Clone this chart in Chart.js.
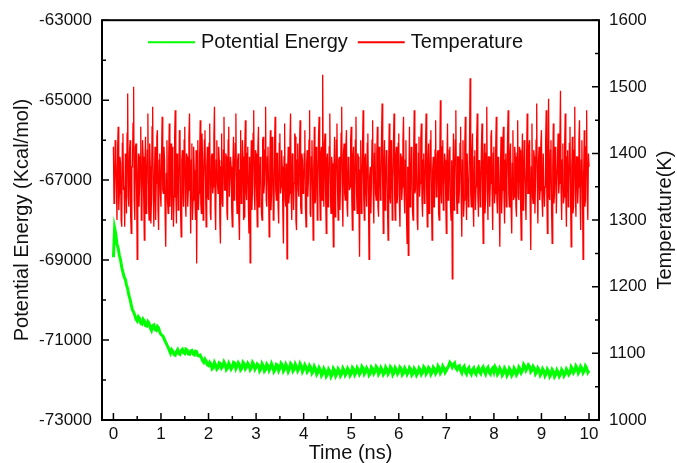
<!DOCTYPE html>
<html>
<head>
<meta charset="utf-8">
<title>Potential energy and temperature</title>
<script src="https://cdn.jsdelivr.net/npm/chart.js@4.4.1/dist/chart.umd.min.js"></script>
<style>
  html,body{margin:0;padding:0;background:#fff;}
  #wrap{width:677px;height:463px;}
</style>
</head>
<body>
<div id="wrap"><canvas id="chart" width="677" height="463"></canvas></div>
<script>
// axis ticks
const timeTicks=[0,1,2,3,4,5,6,7,8,9,10];
const energyTicks=[-73000,-71000,-69000,-67000,-65000,-63000];
const tempTicks=[1000,1100,1200,1300,1400,1500,1600];

// sampling interval (ns) of each series
const energyStep=0.025;
const tempStep=0.0125;

// potential energy (Kcal/mol)
const energy=[
  -68930,-68200,-68350,-68600,-68700,-68880,-69000,-69180,-69300,-69420,
  -69480,-69620,-69720,-69880,-69980,-70120,-70250,-70300,-70380,-70480,
  -70520,-70420,-70460,-70580,-70600,-70480,-70520,-70640,-70650,-70540,
  -70580,-70700,-70760,-70640,-70620,-70740,-70760,-70660,-70700,-70800,
  -70860,-70880,-70920,-71000,-71060,-71120,-71180,-71260,-71330,-71240,
  -71280,-71360,-71380,-71290,-71240,-71340,-71360,-71260,-71230,-71320,
  -71340,-71230,-71250,-71350,-71360,-71270,-71260,-71350,-71370,-71280,
  -71290,-71390,-71400,-71380,-71440,-71520,-71560,-71480,-71530,-71620,
  -71640,
  -71560,-71600,-71720,-71690,-71560,-71620,-71730,-71700,-71570,-71590,-71700,-71660,-71550,-71610,-71740,-71700,-71580,-71640,-71730,-71680,
  -71560,-71580,-71720,-71660,-71570,-71620,-71750,-71710,-71560,-71600,-71720,-71670,-71580,-71630,-71740,-71690,-71560,-71610,-71730,-71680,
  -71600,-71630,-71770,-71720,-71590,-71650,-71780,-71740,-71600,-71640,-71760,-71700,-71590,-71660,-71790,-71740,-71610,-71630,-71770,-71710,
  -71580,-71620,-71780,-71730,-71610,-71670,-71790,-71720,-71590,-71630,-71780,-71740,-71600,-71660,-71770,-71710,-71590,-71650,-71790,-71730,
  -71620,-71670,-71800,-71760,-71640,-71690,-71830,-71780,-71660,-71720,-71860,-71810,-71690,-71740,-71890,-71840,-71710,-71760,-71910,-71860,
  -71730,-71780,-71920,-71870,-71710,-71760,-71900,-71840,-71720,-71770,-71900,-71850,-71700,-71750,-71880,-71830,-71710,-71760,-71890,-71840,
  -71690,-71730,-71870,-71820,-71690,-71740,-71860,-71810,-71660,-71700,-71850,-71800,-71700,-71750,-71880,-71840,-71680,-71720,-71840,-71790,
  -71660,-71700,-71860,-71810,-71690,-71740,-71870,-71830,-71680,-71730,-71850,-71800,-71670,-71710,-71870,-71820,-71690,-71740,-71850,-71800,
  -71680,-71720,-71870,-71830,-71700,-71750,-71860,-71810,-71690,-71730,-71880,-71840,-71710,-71760,-71880,-71830,-71700,-71740,-71860,-71810,
  -71670,-71710,-71850,-71800,-71690,-71730,-71860,-71810,-71680,-71720,-71840,-71790,-71650,-71700,-71830,-71780,-71650,-71700,-71810,-71760,
  -71700,-71640,-71560,-71600,-71680,-71620,-71580,-71700,-71740,-71660,-71640,-71760,-71820,-71700,-71660,-71800,-71850,-71730,-71690,-71810,
  -71860,-71740,-71700,-71820,-71860,-71740,-71690,-71800,-71840,-71710,-71670,-71790,-71850,-71720,-71680,-71810,-71850,-71740,-71700,-71800,
  -71670,-71720,-71860,-71810,-71700,-71750,-71880,-71830,-71700,-71750,-71890,-71840,-71710,-71760,-71890,-71840,-71700,-71750,-71870,-71820,
  -71680,-71730,-71820,-71760,-71610,-71660,-71760,-71700,-71620,-71660,-71800,-71760,-71660,-71710,-71850,-71800,-71700,-71750,-71880,-71830,
  -71720,-71770,-71900,-71850,-71730,-71780,-71910,-71860,-71740,-71790,-71920,-71870,-71750,-71800,-71910,-71860,-71740,-71790,-71900,-71850,
  -71730,-71780,-71870,-71830,-71670,-71720,-71820,-71770,-71650,-71700,-71830,-71780,-71660,-71710,-71820,-71770,-71650,-71700,-71810,-71760
];

// temperature (K)
const temperature=[
  1410,1325,1330,1420,1395,1350,1300,1405,1440,1315,1340,1395,1385,1300,1290,1415,1430,1345,1350,1290,1400,1375,1310,1430,1490,1335,1320,1400,1420,1305,1280,1380,1380,1445,1500,1330,1300,1410,1415,1350,
  1241,1360,1400,1320,1350,1395,1440,1300,1310,1420,1395,1330,1270,1385,1425,1310,1345,1405,1460,1325,1300,1415,1380,1295,1330,1440,1470,1340,1290,1365,1410,1300,1355,1425,1435,1315,1285,1390,1400,1340,
  1320,1400,1455,1345,1340,1410,1390,1305,1260,1370,1420,1330,1310,1395,1445,1320,1365,1415,1300,1380,1410,1290,1335,1425,1465,1340,1295,1400,1385,1315,1350,1435,1430,1310,1275,1390,1405,1345,1320,1420,
  1440,1330,1305,1400,1395,1320,1345,1425,1460,1350,1280,1390,1415,1300,1330,1410,1375,1340,1300,1405,1235,1360,1420,1315,1340,1395,1450,1325,1310,1430,1390,1300,1355,1420,1435,1345,1290,1380,1410,1335,
  1330,1415,1445,1310,1300,1395,1400,1340,1350,1425,1470,1320,1285,1390,1420,1355,1340,1410,1390,1300,1265,1380,1430,1325,1320,1405,1455,1345,1345,1400,1395,1310,1300,1420,1440,1335,1335,1395,1380,1315,
  1290,1385,1425,1330,1355,1415,1460,1340,1310,1390,1400,1305,1270,1375,1435,1325,1340,1420,1395,1300,1305,1410,1450,1345,1330,1400,1410,1320,1280,1395,1236,1370,1420,1315,1350,1430,1465,1340,1315,1405,
  1400,1335,1290,1410,1440,1320,1345,1395,1385,1310,1300,1420,1425,1340,1355,1405,1470,1330,1320,1395,1410,1345,1275,1385,1435,1315,1340,1425,1395,1300,1305,1410,1455,1345,1330,1400,1400,1320,1295,1415,
  1430,1340,1350,1405,1380,1310,1265,1395,1445,1330,1320,1385,1242,1370,1410,1325,1340,1420,1460,1335,1300,1400,1395,1315,1355,1430,1425,1300,1285,1390,1415,1345,1335,1410,1450,1320,1310,1400,1390,1340,
  1345,1400,1435,1320,1290,1385,1405,1335,1360,1420,1465,1310,1305,1395,1420,1345,1270,1380,1440,1325,1330,1410,1395,1300,1350,1425,1455,1340,1300,1400,1410,1330,1518,1360,1320,1415,1430,1335,1280,1390,
  1400,1320,1345,1410,1460,1335,1310,1395,1385,1325,1260,1380,1425,1305,1340,1420,1445,1345,1300,1390,1395,1315,1355,1430,1470,1330,1290,1400,1415,1340,1330,1410,1435,1320,1305,1395,1390,1345,1350,1420,
  1440,1330,1285,1395,1410,1315,1335,1420,1455,1340,1310,1400,1395,1325,1245,1375,1420,1310,1345,1405,1465,1335,1300,1390,1400,1345,1320,1415,1430,1330,1241,1365,1380,1310,1355,1420,1450,1340,1295,1400,
  1415,1340,1330,1400,1440,1320,1305,1410,1390,1330,1350,1425,1475,1345,1280,1385,1420,1315,1340,1405,1400,1320,1270,1390,1445,1335,1325,1420,1385,1300,1360,1410,1460,1340,1300,1395,1410,1325,1335,1415,
  1430,1325,1290,1400,1395,1330,1350,1420,1455,1340,1310,1390,1420,1305,1265,1380,1247,1360,1440,1320,1335,1410,1405,1315,1300,1395,1465,1340,1345,1415,1390,1300,1285,1400,1425,1335,1355,1420,1445,1330,
  1305,1390,1400,1325,1330,1410,1460,1340,1290,1385,1415,1310,1345,1420,1435,1330,1270,1375,1395,1320,1320,1405,1450,1335,1340,1400,1405,1310,1300,1395,1480,1345,1325,1410,1420,1315,1350,1400,1390,1330,
  1280,1385,1445,1330,1335,1405,1410,1320,1300,1390,1212,1360,1430,1315,1355,1420,1465,1340,1310,1395,1395,1325,1345,1415,1440,1330,1275,1390,1420,1305,1330,1410,1455,1345,1300,1400,1400,1320,1350,1415,
  1513,1340,1320,1400,1430,1325,1290,1395,1405,1315,1350,1420,1460,1335,1305,1390,1385,1320,1340,1410,1445,1330,1265,1380,1415,1310,1330,1400,1470,1345,1300,1395,1395,1320,1355,1425,1435,1340,1285,1400,
  1410,1325,1340,1405,1455,1330,1310,1395,1390,1320,1260,1375,1425,1310,1345,1415,1440,1335,1295,1390,1400,1320,1355,1425,1465,1340,1320,1400,1415,1315,1280,1385,1435,1330,1335,1410,1395,1320,1305,1400,
  1450,1335,1330,1410,1405,1320,1270,1385,1430,1315,1350,1420,1385,1330,1300,1395,1460,1340,1340,1410,1420,1325,1255,1380,1445,1335,1325,1405,1395,1310,1360,1420,1475,1345,1295,1390,1410,1330,1345,1415,
  1435,1330,1305,1400,1400,1320,1350,1415,1465,1340,1280,1390,1482,1335,1330,1405,1420,1315,1265,1380,1445,1325,1340,1410,1390,1310,1310,1395,1430,1340,1355,1420,1494,1345,1300,1390,1415,1325,1335,1410,
  1460,1335,1290,1395,1405,1320,1345,1415,1440,1330,1260,1380,1425,1310,1320,1405,1470,1340,1305,1395,1395,1325,1350,1420,1450,1330,1285,1390,1420,1345,1241,1370,1435,1320,1330,1410,1465,1335,1300,1400,
  1380
];

const FONT="'Liberation Sans', Arial, sans-serif";
const INK="#111";

function points(values,step){
  return values.map((v,i)=>({x:+(i*step).toFixed(4),y:v}));
}

function midpoints(arr){
  const out=[];
  for(let i=0;i<arr.length-1;i++) out.push((arr[i]+arr[i+1])/2);
  return out;
}

/* Frame + inward ticks like Origin */
const frameTicks={
  id:"frameTicks",
  afterDatasetsDraw(chart){
    const {ctx,chartArea:a,scales}=chart;
    ctx.save();
    ctx.strokeStyle="#000";
    ctx.lineWidth=1.5;
    ctx.beginPath();
    const tick=(scale,vals,len,side)=>{
      vals.forEach(v=>{
        const p=scale.getPixelForValue(v);
        if(side==="bottom"){ctx.moveTo(p,a.bottom);ctx.lineTo(p,a.bottom-len);}
        if(side==="left"){ctx.moveTo(a.left,p);ctx.lineTo(a.left+len,p);}
        if(side==="right"){ctx.moveTo(a.right,p);ctx.lineTo(a.right-len,p);}
      });
    };
    tick(scales.x,timeTicks,7,"bottom");
    tick(scales.x,midpoints(timeTicks),4,"bottom");
    tick(scales.y,energyTicks,7,"left");
    tick(scales.y,midpoints(energyTicks),4,"left");
    tick(scales.y1,tempTicks,7,"right");
    tick(scales.y1,midpoints(tempTicks),4,"right");
    ctx.stroke();
    ctx.lineWidth=2;
    ctx.strokeRect(a.left,a.top,a.right-a.left,a.bottom-a.top);
    ctx.restore();
  }
};

/* Legend inside the frame + right title reading upwards */
const extras={
  id:"extras",
  afterDraw(chart){
    const {ctx,chartArea:a}=chart;
    ctx.save();
    ctx.font="20px "+FONT;
    ctx.textBaseline="middle";
    ctx.fillStyle=INK;
    let x=a.left+46;
    const y=a.top+22;
    chart.data.datasets.forEach(ds=>{
      ctx.strokeStyle=ds.borderColor;
      ctx.lineWidth=2;
      ctx.beginPath();ctx.moveTo(x,y);ctx.lineTo(x+47,y);ctx.stroke();
      x+=53;
      ctx.fillText(ds.label,x,y);
      x+=ctx.measureText(ds.label).width+10;
    });
    ctx.translate(665,(a.top+a.bottom)/2);
    ctx.rotate(-Math.PI/2);
    ctx.textAlign="center";
    ctx.fillText("Temperature(K)",0,0);
    ctx.restore();
  }
};

function fixedTicks(arr){
  return scale=>{ scale.ticks=arr.map(v=>({value:v})); };
}
const plain=v=>String(v);

new Chart(document.getElementById("chart"),{
  type:"line",
  data:{
    datasets:[
      {
        label:"Potential Energy",
        data:points(energy,energyStep),
        yAxisID:"y",
        borderColor:"#00ff00",
        backgroundColor:"#00ff00",
        borderWidth:3,
        pointRadius:0,
        tension:0
      },
      {
        label:"Temperature",
        data:points(temperature,tempStep),
        yAxisID:"y1",
        borderColor:"#ff0000",
        backgroundColor:"#ff0000",
        borderWidth:1.3,
        pointRadius:0,
        tension:0
      }
    ]
  },
  options:{
    responsive:false,
    animation:false,
    devicePixelRatio:1,
    layout:{padding:{top:19,left:0,right:0,bottom:0}},
    plugins:{tooltip:{enabled:false},legend:{display:false}},
    scales:{
      x:{
        type:"linear",
        min:-0.24,
        max:10.21,
        afterBuildTicks:fixedTicks(timeTicks),
        afterFit(s){s.height=43;},
        grid:{display:false,drawTicks:false},
        border:{display:false},
        ticks:{color:INK,font:{family:FONT,size:17},padding:4,maxRotation:0,callback:plain},
        title:{display:true,text:"Time (ns)",color:INK,font:{family:FONT,size:20,lineHeight:1},padding:0}
      },
      y:{
        type:"linear",
        position:"left",
        min:-73000,
        max:-63000,
        afterBuildTicks:fixedTicks(energyTicks),
        afterFit(s){s.width=102;},
        grid:{display:false,drawTicks:false},
        border:{display:false},
        ticks:{color:INK,font:{family:FONT,size:17},padding:10,callback:plain},
        title:{display:true,text:"Potential Energy (Kcal/mol)",color:INK,font:{family:FONT,size:20},padding:{top:10,bottom:0}}
      },
      y1:{
        type:"linear",
        position:"right",
        min:1000,
        max:1600,
        afterBuildTicks:fixedTicks(tempTicks),
        afterFit(s){s.width=78;},
        grid:{display:false,drawTicks:false},
        border:{display:false},
        ticks:{color:INK,font:{family:FONT,size:17},padding:10,callback:plain},
        title:{display:false}
      }
    }
  },
  plugins:[frameTicks,extras]
});
</script>
</body>
</html>
